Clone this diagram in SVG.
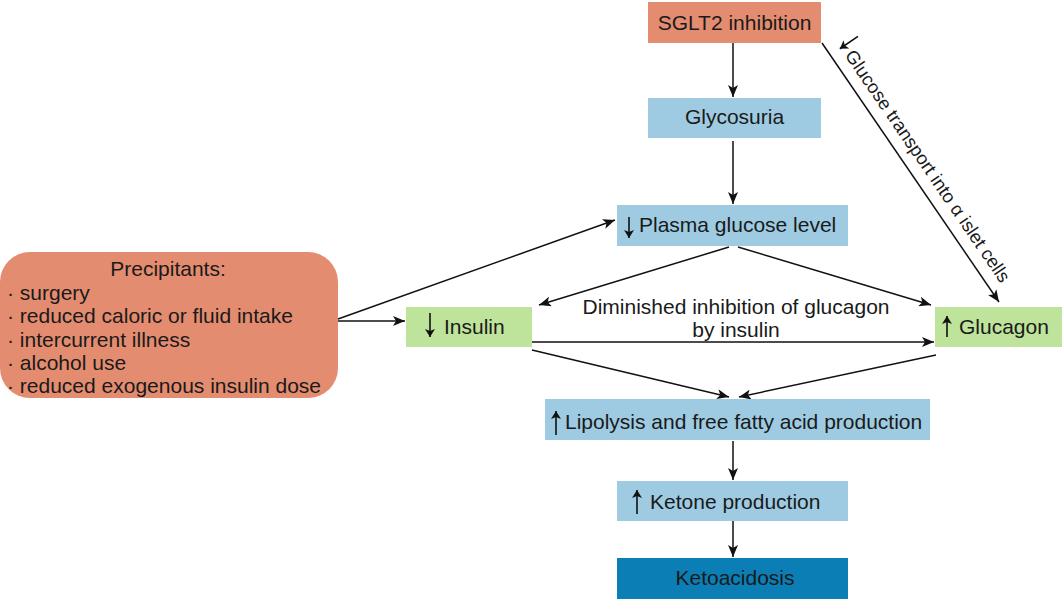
<svg xmlns="http://www.w3.org/2000/svg" width="1064" height="599" viewBox="0 0 1064 599">
  <style>
    .t { font-family: "Liberation Sans", Arial, sans-serif; font-size: 21px; fill: #1a1a1a; }
    .c { text-anchor: middle; }
    .salmon { fill: #E48C70; }
    .blue { fill: #9ECBE2; }
    .green { fill: #BEE39A; }
    .dark { fill: #0B7EB5; }
    .conn { stroke: #111; stroke-width: 1.5; fill: none; marker-end: url(#ah); }
    .ind { stroke: #111; stroke-width: 1.6; fill: none; marker-end: url(#sh); }
  </style>
  <defs>
    <marker id="ah" viewBox="0 0 12 10" markerWidth="13" markerHeight="10" refX="12" refY="5" orient="auto" markerUnits="userSpaceOnUse">
      <path d="M0,0 L12,5 L0,10 L3,5 z" fill="#111"/>
    </marker>
    <marker id="sh" viewBox="0 0 8 10" markerWidth="8" markerHeight="10" refX="8" refY="5" orient="auto" markerUnits="userSpaceOnUse">
      <path d="M0,0 L8,5 L0,10 L2,5 z" fill="#111"/>
    </marker>
  </defs>

  <g id="connectors">
    <path class="conn" d="M733,43 L733,97"/>
    <path class="conn" d="M733,141 L733,204"/>
    <path class="conn" d="M338,319 L615,220"/>
    <path class="conn" d="M338,321 L405,321"/>
    <path class="conn" d="M729,247 L539,305"/>
    <path class="conn" d="M738,247 L931,305"/>
    <path class="conn" d="M532,342 L934,342"/>
    <path class="conn" d="M532,350 L729,397"/>
    <path class="conn" d="M936,355 L739,397"/>
    <path class="conn" d="M733,441 L733,480"/>
    <path class="conn" d="M733,521 L733,557"/>
    <path class="conn" d="M822,43 L999,302"/>
    <g id="diag-label" transform="translate(822,44) rotate(55.6)">
      <path class="ind" d="M14,-34 L14,-12"/>
      <text class="t" x="22" y="-12" style="font-size:18.5px">Glucose transport into α islet cells</text>
    </g>
  </g>

  <g id="sglt2">
    <rect class="salmon" x="648" y="2" width="173" height="41"/>
    <text class="t c" x="734.5" y="30">SGLT2 inhibition</text>
  </g>

  <g id="glycosuria">
    <rect class="blue" x="648" y="98" width="173" height="40"/>
    <text class="t c" x="734.5" y="124">Glycosuria</text>
  </g>

  <g id="plasma">
    <rect class="blue" x="617" y="205" width="231" height="41"/>
    <path class="ind" d="M629,217 L629,238"/>
    <text class="t" x="639" y="232">Plasma glucose level</text>
  </g>

  <g id="precipitants">
    <rect class="salmon" x="0" y="252" width="338" height="146" rx="30" ry="30"/>
    <text class="t c" x="168" y="276">Precipitants:</text>
    <text class="t" x="7" y="299.5">· surgery</text>
    <text class="t" x="7" y="323">· reduced caloric or fluid intake</text>
    <text class="t" x="7" y="346.5">· intercurrent illness</text>
    <text class="t" x="7" y="370">· alcohol use</text>
    <text class="t" x="7" y="393">· reduced exogenous insulin dose</text>
  </g>

  <g id="insulin">
    <rect class="green" x="406" y="307" width="126" height="40"/>
    <path class="ind" d="M430,313 L430,337"/>
    <text class="t" x="444" y="334">Insulin</text>
  </g>

  <g id="glucagon">
    <rect class="green" x="935" y="307" width="127" height="40"/>
    <path class="ind" d="M947,337 L947,316"/>
    <text class="t" x="959" y="334">Glucagon</text>
  </g>

  <g id="diminished">
    <text class="t c" x="736" y="314">Diminished inhibition of glucagon</text>
    <text class="t c" x="736" y="337">by insulin</text>
  </g>

  <g id="lipolysis">
    <rect class="blue" x="545" y="399" width="385" height="41"/>
    <path class="ind" d="M556,435 L556,411"/>
    <text class="t" x="565" y="428.5">Lipolysis and free fatty acid production</text>
  </g>

  <g id="ketone">
    <rect class="blue" x="617" y="481" width="231" height="40"/>
    <path class="ind" d="M637,514 L637,490"/>
    <text class="t" x="650" y="508.5">Ketone production</text>
  </g>

  <g id="ketoacidosis">
    <rect class="dark" x="617" y="558" width="231" height="41"/>
    <text class="t c" x="735" y="585">Ketoacidosis</text>
  </g>
</svg>
